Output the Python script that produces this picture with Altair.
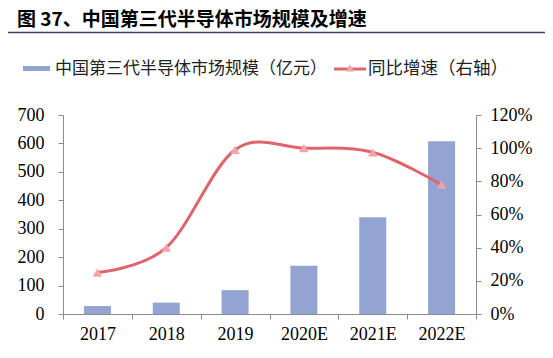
import altair as alt
import pandas as pd

years = ["2017", "2018", "2019", "2020E", "2021E", "2022E"]
market = [28, 40, 84, 170, 340, 608]
growth = [0.25, 0.40, 0.99, 1.00, 0.975, 0.78]

title_text = "图 37、中国第三代半导体市场规模及增速"
legend_bar = "中国第三代半导体市场规模（亿元）"
legend_line = "同比增速（右轴）"
left_ticks = [0, 100, 200, 300, 400, 500, 600, 700]
right_ticks = [0, 0.2, 0.4, 0.6, 0.8, 1.0, 1.2]

df = pd.DataFrame({"year": years, "market": market, "growth": growth})

W, H = 413, 199
PL, PT = 55, 107
BAR_C = "#94A4D2"
LINE_C = "#E0636E"
MARK_C = "#F2A3AB"
AX_C = "#8C8C8C"
SERIF = "Liberation Serif"
CJK = "Noto Sans CJK SC"
FS = 18

xenc = alt.X(
    "year:N", sort=years, title=None,
    scale=alt.Scale(paddingInner=0, paddingOuter=0),
    axis=alt.Axis(labelAngle=0, tickBand="extent", tickSize=5, tickColor=AX_C,
                  domainColor=AX_C, labelFont=SERIF, labelFontSize=FS,
                  labelColor="black", labelPadding=6),
)

bars = alt.Chart(df).mark_bar(size=27, color=BAR_C).encode(
    x=xenc,
    y=alt.Y("market:Q", title=None, scale=alt.Scale(domain=[0, 700]),
            axis=alt.Axis(values=left_ticks, tickSize=5, tickColor=AX_C, domainColor=AX_C,
                          labelFont=SERIF, labelFontSize=FS, labelColor="black",
                          labelPadding=14, grid=False)),
)

yr = alt.Y("growth:Q", title=None, scale=alt.Scale(domain=[0, 1.2]),
           axis=alt.Axis(orient="right", values=right_ticks, format=".0%", tickSize=5,
                         tickColor=AX_C, domainColor=AX_C, labelFont=SERIF,
                         labelFontSize=FS, labelColor="black", labelPadding=9, grid=False))

line = alt.Chart(df).mark_line(color=LINE_C, strokeWidth=3, interpolate="cardinal", tension=0).encode(
    x=alt.X("year:N", sort=years), y=yr)
pts = alt.Chart(df).mark_point(shape="triangle-up", filled=True, size=90, color=MARK_C, opacity=1).encode(
    x=alt.X("year:N", sort=years), y=yr)

right = alt.layer(line, pts)

dummy = alt.Data(values=[{}])

title = alt.Chart(dummy).mark_text(align="left", baseline="middle", font=CJK, fontSize=19,
                                   fontWeight="bold", color="black").encode(
    x=alt.value(17 - 63), y=alt.value(19.5 - 115), text=alt.value(title_text))
title_rule = alt.Chart(dummy).mark_rule(color="#3B3F6B", strokeWidth=1.5).encode(
    x=alt.value(-63), x2=alt.value(490), y=alt.value(32.5 - 115))

leg_rect = alt.Chart(dummy).mark_rect(color=BAR_C).encode(
    x=alt.value(23 - 63), x2=alt.value(50 - 63), y=alt.value(66 - 115), y2=alt.value(71 - 115))
leg_t1 = alt.Chart(dummy).mark_text(align="left", baseline="middle", font=CJK, fontSize=17,
                                    color="#222222").encode(
    x=alt.value(55 - 63), y=alt.value(68.5 - 115), text=alt.value(legend_bar))
leg_line = alt.Chart(dummy).mark_rule(color=LINE_C, strokeWidth=3).encode(
    x=alt.value(334 - 63), x2=alt.value(366 - 63), y=alt.value(69 - 115))
leg_pt = alt.Chart(dummy).mark_point(shape="triangle-up", filled=True, size=70, color=MARK_C, opacity=1).encode(
    x=alt.value(350 - 63), y=alt.value(68 - 115))
leg_t2 = alt.Chart(dummy).mark_text(align="left", baseline="middle", font=CJK, fontSize=17.5,
                                    color="#222222").encode(
    x=alt.value(368 - 63), y=alt.value(68.5 - 115), text=alt.value(legend_line))

chart = alt.layer(bars, right, title, title_rule, leg_rect, leg_t1, leg_line, leg_pt, leg_t2).resolve_scale(
    y="independent"
).properties(
    width=W, height=H,
    autosize=alt.AutoSizeParams(type="none"),
    padding={"left": PL, "top": PT, "right": 553 - 16 - PL - W, "bottom": 358 - 16 - PT - H},
    background="white",
).configure_view(stroke=None)

chart.save("out.html", embed_options={"renderer": "svg", "actions": False})
